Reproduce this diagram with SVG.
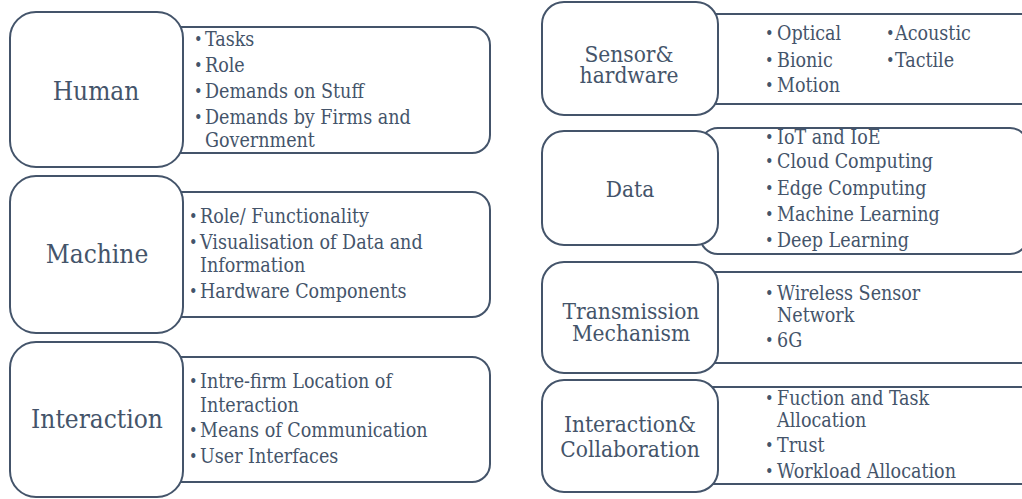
<svg xmlns="http://www.w3.org/2000/svg" width="1022" height="499" viewBox="0 0 1022 499">
<style>
.box{fill:#fff;stroke:#44546a;stroke-width:2}
.t{font-family:'DejaVu Serif Condensed','DejaVu Serif',serif;font-stretch:condensed;fill:#44546a}
.title{font-size:26px;text-anchor:middle}
.title2{font-size:22.5px;text-anchor:middle}
.it{font-size:19.5px}
.b{font-size:16px}
</style>
<rect width="1022" height="499" fill="#fff"/>
<g id="connectors"></g>

<g id="human">
<rect class="box" x="160" y="27" width="330" height="126" rx="18"/>
<rect class="box" x="10" y="12" width="173" height="155" rx="26"/>
<text class="t title" x="96" y="100">Human</text>
<text class="t b" x="194" y="45">•</text><text class="t it" x="205" y="46">Tasks</text>
<text class="t b" x="194" y="71">•</text><text class="t it" x="205" y="72">Role</text>
<text class="t b" x="194" y="97">•</text><text class="t it" x="205" y="98">Demands on Stuff</text>
<text class="t b" x="194" y="123">•</text><text class="t it" x="205" y="124">Demands by Firms and</text>
<text class="t it" x="205" y="147">Government</text>
</g>

<g id="machine">
<rect class="box" x="160" y="192" width="330" height="125" rx="18"/>
<rect class="box" x="10" y="176" width="173" height="157" rx="26"/>
<text class="t title" x="97" y="263">Machine</text>
<text class="t b" x="189" y="222">•</text><text class="t it" x="200" y="223">Role/ Functionality</text>
<text class="t b" x="189" y="248">•</text><text class="t it" x="200" y="249">Visualisation of Data and</text>
<text class="t it" x="200" y="272">Information</text>
<text class="t b" x="189" y="297">•</text><text class="t it" x="200" y="298">Hardware Components</text>
</g>

<g id="interaction">
<rect class="box" x="160" y="357" width="330" height="125" rx="18"/>
<rect class="box" x="10" y="342" width="173" height="155" rx="26"/>
<text class="t title" x="97" y="428">Interaction</text>
<text class="t b" x="189" y="387">•</text><text class="t it" x="200" y="388">Intre-firm Location of</text>
<text class="t it" x="200" y="412">Interaction</text>
<text class="t b" x="189" y="436">•</text><text class="t it" x="200" y="437">Means of Communication</text>
<text class="t b" x="189" y="462">•</text><text class="t it" x="200" y="463">User Interfaces</text>
</g>

<g id="sensor">
<rect class="box" x="700" y="14" width="340" height="90" rx="0"/>
<rect class="box" x="542" y="2" width="176" height="113" rx="22"/>
<text class="t title2" x="629" y="62">Sensor&amp;</text>
<text class="t title2" x="629" y="83">hardware</text>
<text class="t b" x="765" y="39">•</text><text class="t it" x="777" y="40">Optical</text>
<text class="t b" x="765" y="66">•</text><text class="t it" x="777" y="67">Bionic</text>
<text class="t b" x="765" y="91">•</text><text class="t it" x="777" y="92">Motion</text>
<text class="t b" x="886" y="39">•</text><text class="t it" x="895" y="40">Acoustic</text>
<text class="t b" x="886" y="66">•</text><text class="t it" x="895" y="67">Tactile</text>
</g>

<g id="data">
<rect class="box" x="700" y="128" width="328" height="126" rx="18"/>
<rect class="box" x="542" y="131" width="176" height="114" rx="22"/>
<text class="t title2" x="630" y="197">Data</text>
<text class="t b" x="765" y="143">•</text><text class="t it" x="777" y="144">IoT and IoE</text>
<text class="t b" x="765" y="167">•</text><text class="t it" x="777" y="168">Cloud Computing</text>
<text class="t b" x="765" y="194">•</text><text class="t it" x="777" y="195">Edge Computing</text>
<text class="t b" x="765" y="220">•</text><text class="t it" x="777" y="221">Machine Learning</text>
<text class="t b" x="765" y="246">•</text><text class="t it" x="777" y="247">Deep Learning</text>
</g>

<g id="transmission">
<rect class="box" x="700" y="272" width="340" height="91" rx="0"/>
<rect class="box" x="542" y="262" width="176" height="111" rx="22"/>
<text class="t title2" x="631" y="319">Transmission</text>
<text class="t title2" x="631" y="341">Mechanism</text>
<text class="t b" x="765" y="299">•</text><text class="t it" x="777" y="300">Wireless Sensor</text>
<text class="t it" x="777" y="322">Network</text>
<text class="t b" x="765" y="346">•</text><text class="t it" x="777" y="347">6G</text>
</g>

<g id="collaboration">
<rect class="box" x="700" y="387" width="340" height="97" rx="0"/>
<rect class="box" x="542" y="380" width="176" height="112" rx="22"/>
<text class="t title2" x="630" y="432">Interaction&amp;</text>
<text class="t title2" x="630" y="457">Collaboration</text>
<text class="t b" x="765" y="404">•</text><text class="t it" x="777" y="405">Fuction and Task</text>
<text class="t it" x="777" y="427">Allocation</text>
<text class="t b" x="765" y="451">•</text><text class="t it" x="777" y="452">Trust</text>
<text class="t b" x="765" y="477">•</text><text class="t it" x="777" y="478">Workload Allocation</text>
</g>
</svg>
